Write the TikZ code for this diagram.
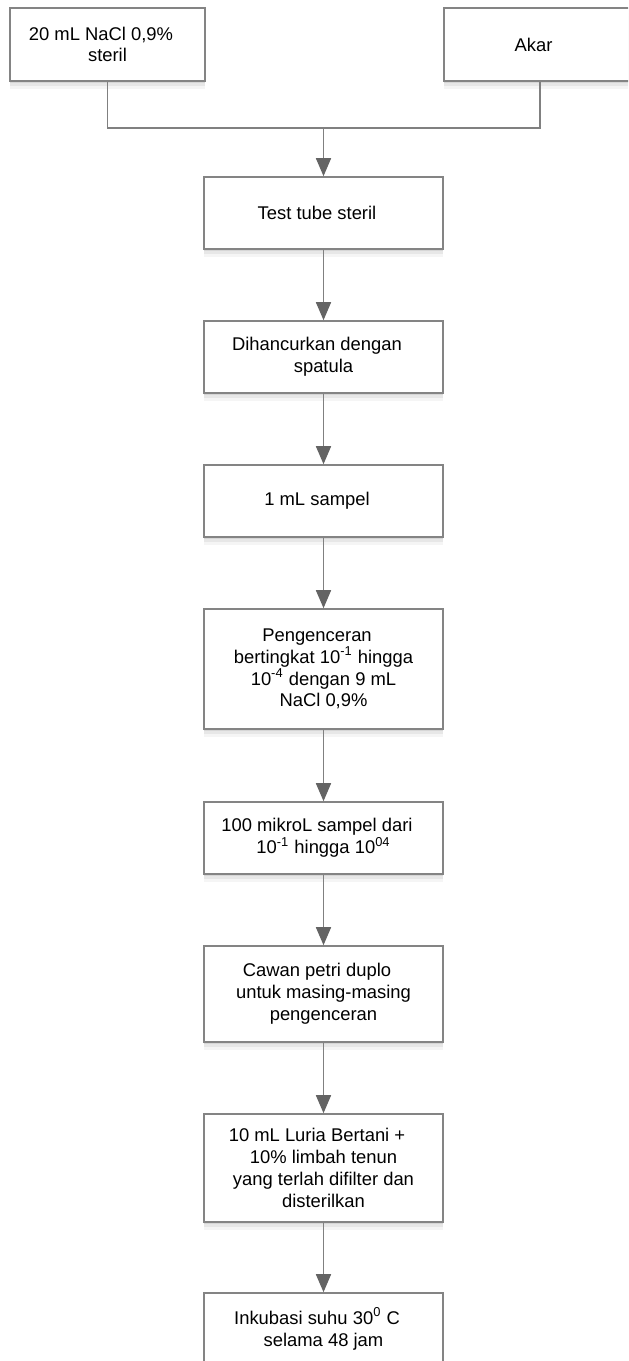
\documentclass[tikz,border=0pt]{standalone}
\usepackage{fontspec}
\setmainfont{Liberation Sans}
\usepackage{xcolor}
\usetikzlibrary{arrows.meta,shadows}
\definecolor{boxgray}{RGB}{132,132,132}
\definecolor{linegray}{RGB}{128,128,128}
\definecolor{tipgray}{RGB}{100,100,100}
\newcommand{\lsh}[1]{\hspace*{-3.25pt}#1\hspace*{3.25pt}}

\begin{document}
\begin{tikzpicture}[x=0.5pt, y=-0.5pt,
    stepbox/.style={draw=boxgray, line width=0.8pt, fill=white, align=center, inner sep=0pt,
        minimum width=119.5pt, minimum height=36pt,
        font=\fontsize{9.2pt}{10.9pt}\selectfont,
        drop shadow={shadow xshift=0pt, shadow yshift=-1pt, opacity=0.07, fill=black},
        drop shadow={shadow xshift=0pt, shadow yshift=-2.5pt, opacity=0.06, fill=black},
        drop shadow={shadow xshift=0pt, shadow yshift=-4pt, opacity=0.04, fill=black}},
    link/.style={draw=linegray, line width=0.75pt},
    flow/.style={link, -{Triangle[length=9pt, width=7.5pt, color=tipgray]}}]
        \clip (0,0) rectangle (628,1361);

        % Bahan awal
        \node[stepbox, minimum width=97.5pt, minimum height=36.5pt] (nacl) at (107.5,44.5) {\lsh{20 mL NaCl 0,9\%}\\steril};
        \node[stepbox, minimum width=96pt, minimum height=36.5pt] (akar) at (540,44.5) {\lsh{Akar}};

        % Tahapan
        \node[stepbox] (tube) at (323.5,213) {\lsh{Test tube steril}};
        \node[stepbox] (crush) at (323.5,357) {\lsh{Dihancurkan dengan}\\spatula};
        \node[stepbox] (sample) at (323.5,501) {\lsh{1 mL sampel}};
        \node[stepbox, minimum height=60pt] (dilution) at (323.5,669) {\lsh{Pengenceran}\\bertingkat 10\textsuperscript{-1} hingga\\10\textsuperscript{-4} dengan 9 mL\\NaCl 0,9\%};
        \node[stepbox] (aliquot) at (323.5,838) {\lsh{100 mikroL sampel dari}\\10\textsuperscript{-1} hingga 10\textsuperscript{04}};
        \node[stepbox, minimum height=48pt] (petri) at (323.5,994) {\lsh{Cawan petri duplo}\\untuk masing-masing\\pengenceran};
        \node[stepbox, minimum height=54pt] (medium) at (323.5,1168) {\lsh{10 mL Luria Bertani +}\\10\% limbah tenun\\yang terlah difilter dan\\disterilkan};
        \node[stepbox] (incubate) at (323.5,1329) {\lsh{Inkubasi suhu 30\textsuperscript{0} C}\\selama 48 jam};

        % Penghubung
        \coordinate (merge) at (323.5,128);
        \draw[link] (nacl.south) |- (merge) -| (akar.south);
        \draw[flow] (merge) -- (tube);
        \foreach \a/\b in {tube/crush, crush/sample, sample/dilution, dilution/aliquot, aliquot/petri, petri/medium, medium/incubate}
            \draw[flow] (\a) -- (\b);
    \end{tikzpicture}
\end{document}
